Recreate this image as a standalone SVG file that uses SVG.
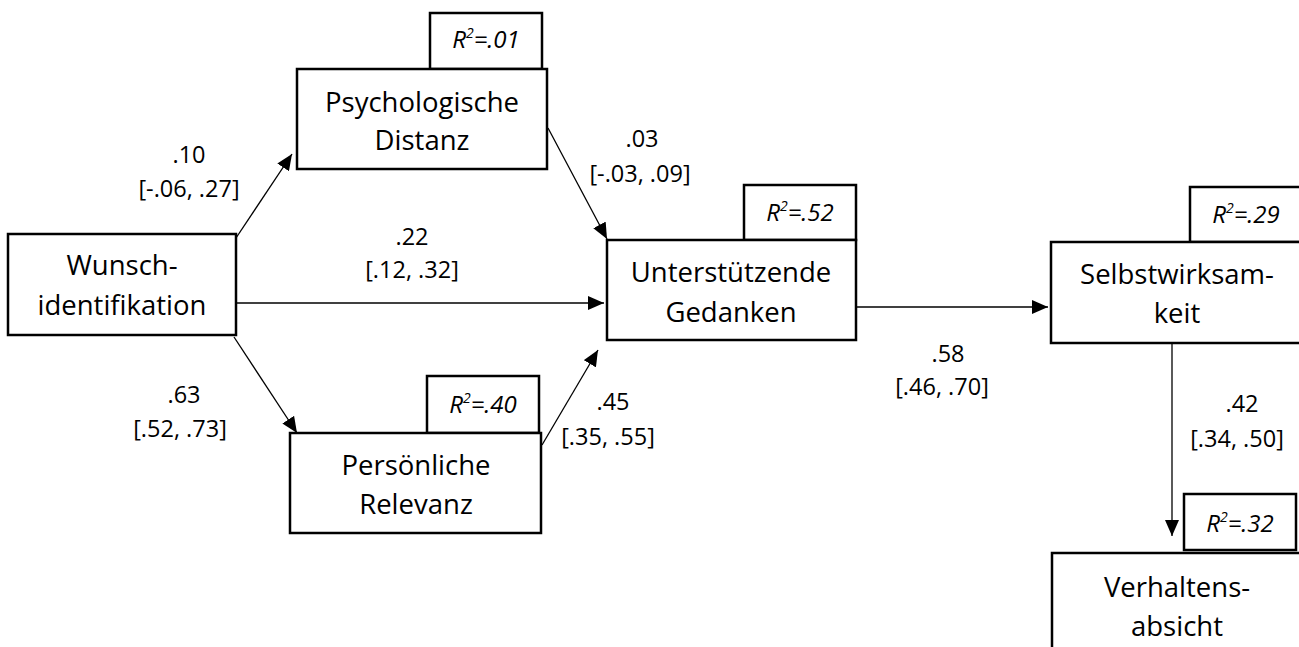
<svg xmlns="http://www.w3.org/2000/svg" width="1299" height="647" viewBox="0 0 1299 647">
  <style>
    .box { fill: #ffffff; stroke: #000000; stroke-width: 2.5; }
    .node { font-family: "Open Sans", "Liberation Sans", sans-serif; font-size: 27.5px; fill: #000000; text-anchor: middle; }
    .lbl { font-family: "Open Sans", "Liberation Sans", sans-serif; font-size: 23.5px; fill: #000000; text-anchor: middle; }
    .r2 { font-family: "Open Sans", "Liberation Sans", sans-serif; font-size: 24px; font-style: italic; fill: #000000; text-anchor: middle; }
    .sup { font-size: 14px; }
    .edge { fill: none; stroke: #000000; stroke-width: 1.3; marker-end: url(#arrow); }
  </style>
  <defs>
    <marker id="arrow" markerUnits="userSpaceOnUse" markerWidth="16" markerHeight="14" refX="16" refY="7" orient="auto">
      <path d="M0,0 L16,7 L0,14 Z" fill="#000000"/>
    </marker>
  </defs>
  <rect width="1299" height="647" fill="#ffffff"/>

  <!-- connectors with path coefficients and confidence intervals -->
  <g id="connectors">
    <line class="edge" x1="236" y1="238" x2="292" y2="154"/>
    <line class="edge" x1="236" y1="303" x2="604" y2="303"/>
    <line class="edge" x1="234" y1="337" x2="297" y2="433"/>
    <line class="edge" x1="548" y1="128" x2="607" y2="239"/>
    <line class="edge" x1="542" y1="445" x2="598" y2="350"/>
    <line class="edge" x1="856" y1="307" x2="1048" y2="307"/>
    <line class="edge" x1="1172" y1="343" x2="1172" y2="536"/>

    <text class="lbl" x="189" y="163">.10</text>
    <text class="lbl" x="189" y="197">[-.06, .27]</text>
    <text class="lbl" x="412" y="245">.22</text>
    <text class="lbl" x="412" y="278">[.12, .32]</text>
    <text class="lbl" x="184" y="403">.63</text>
    <text class="lbl" x="180" y="437">[.52, .73]</text>
    <text class="lbl" x="642" y="147">.03</text>
    <text class="lbl" x="640" y="182">[-.03, .09]</text>
    <text class="lbl" x="613" y="410">.45</text>
    <text class="lbl" x="608" y="445">[.35, .55]</text>
    <text class="lbl" x="948" y="362">.58</text>
    <text class="lbl" x="942" y="395">[.46, .70]</text>
    <text class="lbl" x="1242" y="412">.42</text>
    <text class="lbl" x="1237" y="447">[.34, .50]</text>
  </g>

  <g id="wunschidentifikation">
    <rect class="box" x="8" y="234" width="228" height="101"/>
    <text class="node" x="122" y="275">Wunsch-</text>
    <text class="node" x="122" y="315">identifikation</text>
  </g>

  <g id="psychologische-distanz">
    <rect class="box" x="430" y="13" width="112" height="56"/>
    <text class="r2" x="486" y="48">R<tspan class="sup" dy="-10">2</tspan><tspan dy="10">=.01</tspan></text>
    <rect class="box" x="297" y="69" width="250" height="100"/>
    <text class="node" x="422" y="112">Psychologische</text>
    <text class="node" x="422" y="150">Distanz</text>
  </g>

  <g id="persoenliche-relevanz">
    <rect class="box" x="427" y="376" width="112" height="57"/>
    <text class="r2" x="483" y="413">R<tspan class="sup" dy="-10">2</tspan><tspan dy="10">=.40</tspan></text>
    <rect class="box" x="290" y="433" width="251" height="100"/>
    <text class="node" x="416" y="475">Persönliche</text>
    <text class="node" x="416" y="514">Relevanz</text>
  </g>

  <g id="unterstuetzende-gedanken">
    <rect class="box" x="744" y="185" width="112" height="55"/>
    <text class="r2" x="800" y="221">R<tspan class="sup" dy="-10">2</tspan><tspan dy="10">=.52</tspan></text>
    <rect class="box" x="607" y="240" width="249" height="100"/>
    <text class="node" x="731" y="282">Unterstützende</text>
    <text class="node" x="731" y="322">Gedanken</text>
  </g>

  <g id="selbstwirksamkeit">
    <rect class="box" x="1190" y="187" width="112" height="55"/>
    <text class="r2" x="1246" y="223">R<tspan class="sup" dy="-10">2</tspan><tspan dy="10">=.29</tspan></text>
    <rect class="box" x="1051" y="242" width="252" height="101"/>
    <text class="node" x="1177" y="284">Selbstwirksam-</text>
    <text class="node" x="1177" y="323">keit</text>
  </g>

  <g id="verhaltensabsicht">
    <rect class="box" x="1184" y="494" width="112" height="56"/>
    <text class="r2" x="1240" y="532">R<tspan class="sup" dy="-10">2</tspan><tspan dy="10">=.32</tspan></text>
    <rect class="box" x="1052" y="553" width="252" height="110"/>
    <text class="node" x="1177" y="597">Verhaltens-</text>
    <text class="node" x="1177" y="636">absicht</text>
  </g>
</svg>
